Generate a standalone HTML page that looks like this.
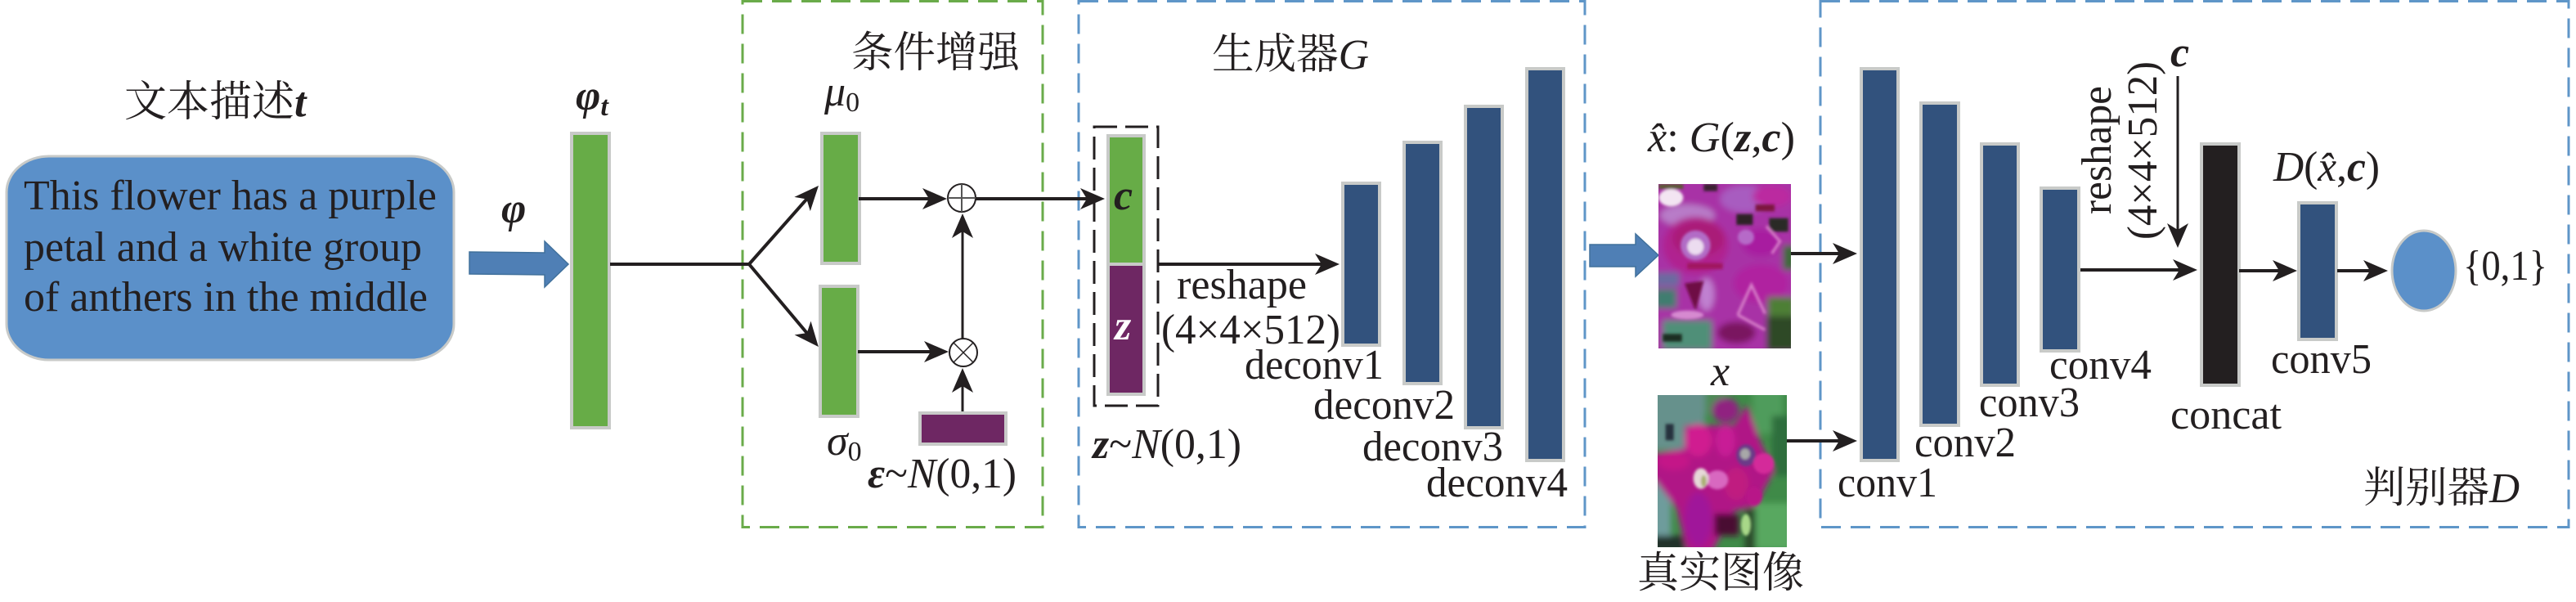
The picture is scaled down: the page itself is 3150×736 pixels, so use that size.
<!DOCTYPE html>
<html><head><meta charset="utf-8"><style>
html,body{margin:0;padding:0;background:#fff}
svg{display:block}
text{font-family:"Liberation Serif","Noto Serif CJK SC",serif;font-size:52px;fill:#231f20}
.l{stroke:#231f20;stroke-width:4;fill:none}
.t{stroke:#231f20;stroke-width:3;fill:none}
.g{fill:#67ac47;stroke:#c8cac8;stroke-width:4}
.n{fill:#32527d;stroke:#c8cac8;stroke-width:4}
.p{fill:#6e2763;stroke:#c8cac8;stroke-width:4}
</style></head><body>
<svg width="3150" height="736" viewBox="0 0 3150 736" xmlns="http://www.w3.org/2000/svg">
<defs>
<marker id="a" markerUnits="userSpaceOnUse" markerWidth="40" markerHeight="30" refX="30" refY="15" orient="auto" overflow="visible">
<path d="M36,15 L6,2 L14,15 L6,28Z" fill="#231f20"/></marker>
<filter id="b1" x="-10%" y="-10%" width="120%" height="120%"><feGaussianBlur stdDeviation="11"/></filter>
<filter id="b2" x="-10%" y="-10%" width="120%" height="120%"><feGaussianBlur stdDeviation="5"/></filter>
<clipPath id="ci1"><rect x="2028" y="225" width="162" height="201"/></clipPath>
<clipPath id="ci2"><rect x="2027" y="483" width="158" height="186"/></clipPath>
</defs>

<!-- dashed frames -->
<rect x="908" y="1.5" width="367" height="643" fill="none" stroke="#6aab4a" stroke-width="3" stroke-dasharray="24 12"/>
<rect x="1319" y="1.5" width="619" height="643" fill="none" stroke="#5f96c8" stroke-width="3" stroke-dasharray="24 12"/>
<rect x="2226" y="1.5" width="915" height="643" fill="none" stroke="#5f96c8" stroke-width="3" stroke-dasharray="24 12"/>
<rect x="1338" y="155" width="78" height="341" fill="none" stroke="#231f20" stroke-width="3" stroke-dasharray="28 10"/>

<!-- text box -->
<rect x="8" y="191" width="547" height="249" rx="52" ry="44" fill="#5b90c9" stroke="#c8cac8" stroke-width="3"/>
<text x="29" y="256" textLength="505" lengthAdjust="spacingAndGlyphs">This flower has a purple</text>
<text x="29" y="319" textLength="487" lengthAdjust="spacingAndGlyphs">petal and a white group</text>
<text x="29" y="380" textLength="494" lengthAdjust="spacingAndGlyphs">of anthers in the middle</text>
<text x="152" y="142">文本描述<tspan font-style="italic" font-weight="bold" font-family="Liberation Serif">t</tspan></text>

<!-- block arrow 1 -->
<path d="M574,308 L666,309 L666,295 L695,323 L666,351 L666,336 L574,335Z" fill="#4f7fb5" stroke="#41719c" stroke-width="1.5"/>
<text x="613" y="272" font-style="italic" font-weight="bold" font-size="56" font-family="Liberation Serif">φ</text>
<rect class="g" x="699" y="163" width="46" height="360"/>
<text x="704" y="134" font-style="italic" font-weight="bold" font-size="56">φ<tspan font-size="34" dy="7">t</tspan></text>

<!-- main lines -->
<path class="l" d="M746,323 H916"/>
<path class="l" d="M916,323 L997,231.5" marker-end="url(#a)"/>
<path class="l" d="M916,323 L997,419.4" marker-end="url(#a)"/>

<!-- CA -->
<text x="1041" y="82" textLength="206" lengthAdjust="spacingAndGlyphs">条件增强</text>
<rect class="g" x="1005" y="163" width="46" height="159"/>
<rect class="g" x="1003" y="350" width="46" height="159"/>
<rect class="p" x="1125" y="505" width="105" height="38"/>
<text x="1008" y="129" font-style="italic" font-size="52">μ<tspan font-size="34" font-style="normal" dy="7">0</tspan></text>
<text x="1011" y="556" font-style="italic" font-size="52">σ<tspan font-size="34" font-style="normal" dy="7">0</tspan></text>
<text x="1061" y="596" textLength="182" lengthAdjust="spacingAndGlyphs"><tspan font-style="italic" font-weight="bold">ε</tspan><tspan>~</tspan><tspan font-style="italic">N</tspan>(0,1)</text>
<path class="l" d="M1050,243 H1152" marker-end="url(#a)"/>
<path class="l" d="M1049,430 H1154" marker-end="url(#a)"/>
<circle cx="1176" cy="242" r="17" fill="#fff" stroke="#231f20" stroke-width="2"/>
<path d="M1159,242 H1193 M1176,225 V259" stroke="#555" stroke-width="2"/>
<circle cx="1178" cy="431" r="17" fill="#fff" stroke="#231f20" stroke-width="2"/>
<path d="M1166,419 L1190,443 M1190,419 L1166,443" stroke="#231f20" stroke-width="1.5"/>
<path class="t" d="M1177,414 V267" marker-end="url(#a)"/>
<path class="t" d="M1177,503 V456" marker-end="url(#a)"/>
<path class="l" d="M1193,243 H1345" marker-end="url(#a)"/>

<!-- Generator -->
<text x="1482" y="84" textLength="192" lengthAdjust="spacingAndGlyphs">生成器<tspan font-style="italic" font-family="Liberation Serif">G</tspan></text>
<rect class="g" x="1355" y="166" width="44" height="158"/>
<rect class="p" x="1355" y="323" width="44" height="159"/>
<text x="1362" y="256" font-style="italic" font-weight="bold" font-size="60">c</text>
<text x="1363" y="415" font-style="italic" font-weight="bold" font-size="60" style="fill:#fff">z</text>
<text x="1336" y="560" textLength="182" lengthAdjust="spacingAndGlyphs"><tspan font-style="italic" font-weight="bold">z</tspan>~<tspan font-style="italic">N</tspan>(0,1)</text>
<path class="l" d="M1417,323 H1632" marker-end="url(#a)"/>
<text x="1439" y="365" textLength="159" lengthAdjust="spacingAndGlyphs">reshape</text>
<text x="1420" y="420" textLength="219" lengthAdjust="spacingAndGlyphs">(4×4×512)</text>
<rect class="n" x="1642" y="224" width="45" height="198"/>
<rect class="n" x="1717" y="174" width="45" height="295"/>
<rect class="n" x="1792" y="130" width="45" height="393"/>
<rect class="n" x="1867" y="84" width="45" height="479"/>
<text x="1522" y="463" textLength="170" lengthAdjust="spacingAndGlyphs">deconv1</text>
<text x="1606" y="512" textLength="173" lengthAdjust="spacingAndGlyphs">deconv2</text>
<text x="1666" y="563" textLength="172" lengthAdjust="spacingAndGlyphs">deconv3</text>
<text x="1744" y="607" textLength="173" lengthAdjust="spacingAndGlyphs">deconv4</text>

<!-- block arrow 2 -->
<path d="M1944,299 L2000,299 L2000,286 L2028,312 L2000,338 L2000,326 L1944,326Z" fill="#4f7fb5" stroke="#41719c" stroke-width="1.5"/>

<!-- image labels -->
<text x="2015" y="185" textLength="180" lengthAdjust="spacingAndGlyphs"><tspan font-style="italic">x̂</tspan>: <tspan font-style="italic">G</tspan>(<tspan font-style="italic" font-weight="bold">z</tspan>,<tspan font-style="italic" font-weight="bold">c</tspan>)</text>
<text x="2092" y="471" font-style="italic">x</text>
<text x="2002" y="718" textLength="204" lengthAdjust="spacingAndGlyphs">真实图像</text>

<!-- flower 1 -->
<g clip-path="url(#ci1)">
<rect x="2028" y="225" width="162" height="201" fill="#a52ba0"/>
<g transform="translate(2020,220) scale(.3333)">
<g filter="url(#b1)">
<rect x="-20" y="-20" width="580" height="680" fill="#a830a6"/>
<ellipse cx="130" cy="130" rx="100" ry="40" fill="#b87cc8"/>
<ellipse cx="340" cy="70" rx="90" ry="50" fill="#a85cc0"/>
<ellipse cx="440" cy="60" rx="70" ry="40" fill="#bb2aa0"/>
<ellipse cx="160" cy="240" rx="120" ry="105" fill="#b02490"/>
<ellipse cx="170" cy="215" rx="95" ry="65" fill="#aa1f78"/>
<ellipse cx="400" cy="230" rx="70" ry="50" fill="#a81ca0"/>
<rect x="480" y="240" width="50" height="90" fill="#3c6a3a"/>
<ellipse cx="400" cy="380" rx="100" ry="70" fill="#b020a0"/>
<rect x="10" y="340" width="90" height="50" fill="#6a6aa0"/>
<rect x="10" y="400" width="80" height="70" fill="#3f7d70"/>
<ellipse cx="200" cy="420" rx="28" ry="60" fill="#c080d0"/>
<rect x="40" y="515" width="180" height="110" fill="#4f8f78"/>
<ellipse cx="310" cy="560" rx="70" ry="40" fill="#7a1460"/>
<rect x="425" y="430" width="100" height="70" fill="#4d7f35"/>
<rect x="420" y="500" width="110" height="130" fill="#2e4a28"/>
</g>
<g filter="url(#b2)">
<ellipse cx="70" cy="65" rx="45" ry="32" fill="#f3e5f2"/>
<rect x="25" y="15" width="90" height="18" fill="#5a5a30"/>
<rect x="190" y="15" width="50" height="26" fill="#3a2230"/>
<ellipse cx="160" cy="240" rx="55" ry="55" fill="#b26cc6"/>
<ellipse cx="160" cy="245" rx="30" ry="30" fill="#ecdcf0"/>
<rect x="130" y="305" width="130" height="22" fill="#a01860"/>
<rect x="380" y="90" width="70" height="25" fill="#7d1540"/>
<rect x="310" y="125" width="60" height="40" fill="#2e2226"/>
<rect x="430" y="140" width="70" height="50" fill="#2c2c26"/>
<ellipse cx="345" cy="210" rx="30" ry="28" fill="#b66ac8"/>
<path d="M120,380 L190,370 L160,480Z" fill="#6e1044"/>
<ellipse cx="130" cy="495" rx="60" ry="16" fill="#d68ad0"/>
<rect x="40" y="565" width="70" height="28" fill="#1f2f22"/>
<g fill="none" stroke="#d77fc9" stroke-width="10">
<path d="M315,495 L365,385 L415,490 M315,495 L415,550"/>
<path d="M420,170 L470,225 L440,270"/>
</g>
</g>
</g>
</g>

<!-- flower 2 -->
<g clip-path="url(#ci2)">
<rect x="2027" y="483" width="158" height="186" fill="#3f8a48"/>
<g transform="translate(2020,475) scale(.3333)">
<g filter="url(#b1)">
<rect x="0" y="0" width="195" height="225" fill="#66918c"/>
<rect x="195" y="0" width="80" height="95" fill="#4e8a56"/>
<rect x="370" y="0" width="110" height="165" fill="#4f9c5c"/>
<rect x="440" y="100" width="80" height="220" fill="#2f6e3c"/>
<rect x="0" y="340" width="70" height="200" fill="#6e9c9c"/>
<rect x="0" y="540" width="120" height="60" fill="#22302a"/>
<rect x="380" y="420" width="130" height="170" fill="#58a860"/>
<rect x="340" y="440" width="40" height="160" fill="#2a4a2c"/>
<path d="M120,135 L300,135 L350,60 L400,200 L450,300 L380,430 L300,450 L220,600 L130,600 L90,440 L0,320 L0,240 L120,220Z" fill="#b01486"/>
<rect x="230" y="460" width="90" height="80" fill="#4a1030"/>
<ellipse cx="270" cy="80" rx="50" ry="45" fill="#902080"/>
<ellipse cx="170" cy="190" rx="50" ry="60" fill="#d01a90"/>
<ellipse cx="270" cy="190" rx="35" ry="60" fill="#c81a96"/>
<ellipse cx="80" cy="265" rx="60" ry="35" fill="#c41888"/>
<ellipse cx="170" cy="480" rx="50" ry="100" fill="#a0189a"/>
<ellipse cx="310" cy="350" rx="45" ry="60" fill="#c01a80"/>
</g>
<g filter="url(#b2)">
<rect x="50" y="130" width="30" height="60" fill="#26323c"/>
<ellipse cx="345" cy="245" rx="35" ry="40" fill="#6a3a88"/>
<ellipse cx="342" cy="240" rx="18" ry="20" fill="#a8a8a8"/>
<ellipse cx="410" cy="275" rx="38" ry="38" fill="#d42a9a"/>
<ellipse cx="240" cy="335" rx="40" ry="35" fill="#d868c0"/>
<ellipse cx="180" cy="330" rx="28" ry="38" fill="#e6d8d8"/>
<ellipse cx="190" cy="340" rx="10" ry="22" fill="#a8b070"/>
<ellipse cx="375" cy="395" rx="30" ry="35" fill="#b81488"/>
<ellipse cx="345" cy="500" rx="18" ry="40" fill="#a8d888"/>
</g>
</g>
</g>

<!-- image arrows -->
<path class="l" d="M2190,310 H2265" marker-end="url(#a)"/>
<path class="l" d="M2185,539 H2265" marker-end="url(#a)"/>

<!-- Discriminator -->
<rect class="n" x="2276" y="84" width="45" height="479"/>
<rect class="n" x="2349" y="126" width="46" height="394"/>
<rect class="n" x="2423" y="176" width="45" height="295"/>
<rect class="n" x="2496" y="230" width="46" height="199"/>
<rect x="2692" y="176" width="46" height="295" fill="#231f20" stroke="#c8cac8" stroke-width="4"/>
<rect class="n" x="2811" y="248" width="46" height="167"/>
<ellipse cx="2964" cy="331" rx="39" ry="49" fill="#5b90c9" stroke="#c8cac8" stroke-width="3"/>
<text x="2247" y="607" textLength="122" lengthAdjust="spacingAndGlyphs">conv1</text>
<text x="2341" y="558" textLength="124" lengthAdjust="spacingAndGlyphs">conv2</text>
<text x="2420" y="509" textLength="123" lengthAdjust="spacingAndGlyphs">conv3</text>
<text x="2506" y="463" textLength="125" lengthAdjust="spacingAndGlyphs">conv4</text>
<text x="2654" y="524" textLength="136" lengthAdjust="spacingAndGlyphs">concat</text>
<text x="2777" y="456" textLength="123" lengthAdjust="spacingAndGlyphs">conv5</text>
<text x="2890" y="614" textLength="191" lengthAdjust="spacingAndGlyphs">判别器<tspan font-style="italic" font-family="Liberation Serif">D</tspan></text>
<text x="3012" y="342" textLength="103" lengthAdjust="spacingAndGlyphs">{0,1}</text>
<text x="2780" y="221" textLength="130" lengthAdjust="spacingAndGlyphs"><tspan font-style="italic">D</tspan>(<tspan font-style="italic">x̂</tspan>,<tspan font-style="italic" font-weight="bold">c</tspan>)</text>
<text x="2654" y="81" font-style="italic" font-weight="bold" font-size="60">c</text>
<path class="t" d="M2663,93 V297" marker-end="url(#a)"/>
<path class="l" d="M2544,330 H2681" marker-end="url(#a)"/>
<path class="l" d="M2738,331 H2803" marker-end="url(#a)"/>
<path class="l" d="M2858,331 H2914" marker-end="url(#a)"/>
<text transform="translate(2581,262) rotate(-90)" textLength="157" lengthAdjust="spacingAndGlyphs">reshape</text>
<text transform="translate(2637,293) rotate(-90)" textLength="218" lengthAdjust="spacingAndGlyphs">(4×4×512)</text>
</svg>
</body></html>
